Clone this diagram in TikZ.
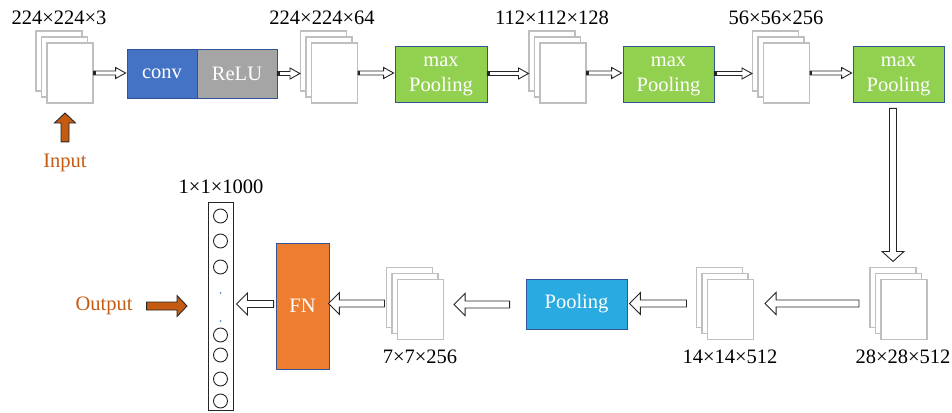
\documentclass[tikz,border=0pt]{standalone}
\usepackage{fontspec}
\setmainfont{Liberation Serif}
\usetikzlibrary{calc}
\definecolor{convblue}{HTML}{4472C4}
\definecolor{relugray}{HTML}{A5A5A5}
\definecolor{poolgreen}{HTML}{92D050}
\definecolor{poolcyan}{HTML}{29ABE2}
\definecolor{fnorange}{HTML}{ED7D31}
\definecolor{boxedge}{HTML}{2F5597}
\definecolor{sheetedge}{HTML}{BFBFBF}
\definecolor{ioorange}{HTML}{C55A11}
\definecolor{tipedge}{HTML}{262626}

\tikzset{
  sheet/.style={draw=sheetedge, line width=1.1pt, fill=white, minimum width=46pt, minimum height=60pt, inner sep=0pt},
  layer/.style={draw=boxedge, line width=0.8pt, text=white, inner sep=0pt, align=center, font=\fontsize{20.5}{25.5}\selectfont},
  maxpool/.style={layer, fill=poolgreen, minimum height=56pt, text depth=0pt},
  dimlbl/.style={inner sep=0pt, font=\fontsize{20.5}{24}\selectfont},
  iolbl/.style={inner sep=0pt, text=ioorange, font=\fontsize{20.5}{24}\selectfont},
  neuron/.style={circle, draw=tipedge, line width=0.9pt, minimum size=14pt, inner sep=0pt},
  blockarrow/.style={draw=tipedge, line width=0.9pt, fill=white, line join=miter},
  tailmark/.style={fill=tipedge},
  % horizontal block arrow: shaft half-height, head half-height, head length (negative = leftwards)
  harr/.style n args={3}{to path={let \p1=(\tikztostart), \p2=(\tikztotarget) in
    (\x1,{\y1+(#1)}) -- ({\x2-(#3)},{\y1+(#1)}) -- ({\x2-(#3)},{\y1+(#2)}) -- (\x2,\y1)
    -- ({\x2-(#3)},{\y1-(#2)}) -- ({\x2-(#3)},{\y1-(#1)}) -- (\x1,{\y1-(#1)}) -- cycle}},
  % vertical block arrow: shaft half-width, head half-width, head length (negative = upwards)
  varr/.style n args={3}{to path={let \p1=(\tikztostart), \p2=(\tikztotarget) in
    ({\x1-(#1)},\y1) -- ({\x1-(#1)},{\y2+(#3)}) -- ({\x1-(#2)},{\y2+(#3)}) -- (\x1,\y2)
    -- ({\x1+(#2)},{\y2+(#3)}) -- ({\x1+(#1)},{\y2+(#3)}) -- ({\x1+(#1)},\y1) -- cycle}},
  rsmall/.style={harr={2pt}{5.5pt}{10pt}},
  lbig/.style={harr={3.5pt}{11pt}{-11pt}},
}

% a stack of three feature-map sheets; #1 is the name of the front sheet
\newcommand\fmapstack[3]{%
  \node[sheet] (#1-b) at (#2-11,#3-12) {};
  \node[sheet] (#1-m) at (#2-5.5,#3-6) {};
  \node[sheet] (#1) at (#2,#3) {};
}
% small right-pointing block arrow with a dark tail end
\newcommand\flowright[2]{%
  \draw[blockarrow] (#1) to[rsmall] (#2);
  \fill[tailmark] ($(#1)+(0,-2.4)$) rectangle ++(2.2,4.8);
}

\begin{document}
\begin{tikzpicture}[x=1pt, y=-1pt]
\useasboundingbox (0,0) rectangle (952,412);

% feature maps
\fmapstack{s1}{70}{73}
\fmapstack{s2}{334.5}{73}
\fmapstack{s3}{563}{73}
\fmapstack{s4}{786.5}{73}
\fmapstack{s5}{904}{309.5}
\fmapstack{s6}{730.5}{309.5}
\fmapstack{s7}{420.5}{309.5}

% dimension labels
\node[dimlbl] (d1) at (59,18) {224×224×3};
\node[dimlbl] (d2) at (322,18) {224×224×64};
\node[dimlbl] (d3) at (552,18) {112×112×128};
\node[dimlbl] (d4) at (776,18) {56×56×256};
\node[dimlbl] (d5) at (903,357) {28×28×512};
\node[dimlbl] (d6) at (730,357) {14×14×512};
\node[dimlbl] (d7) at (420,357) {7×7×256};
\node[dimlbl] (d8) at (221,187) {1×1×1000};

% layers
\node[layer, fill=convblue, minimum width=70pt, minimum height=49pt] (conv) at (162,73.5) {conv};
\node[layer, fill=relugray, minimum width=80pt, minimum height=49pt] (relu) at (237,73.5) {ReLU};
\node[maxpool, minimum width=92pt] (mp1) at (441,74) {max\\Pooling};
\node[maxpool, minimum width=91pt] (mp2) at (668.5,74) {max\\Pooling};
\node[maxpool, minimum width=91pt] (mp3) at (898.5,74) {max\\Pooling};
\node[layer, fill=poolcyan, minimum width=101pt, minimum height=50pt] (pool) at (576.5,304) {Pooling};
\node[layer, fill=fnorange, minimum width=53pt, minimum height=126pt] (fn) at (302.5,306) {FN};

% output column of neurons
\node[draw=tipedge, line width=0.9pt, minimum width=25pt, minimum height=208pt, inner sep=0pt] (col) at (220.5,306) {};
\foreach \i/\yy in {1/216, 2/241, 3/267, 4/335, 5/355, 6/379, 7/401}
  \node[neuron] (n\i) at (220.5,\yy) {};
\fill[convblue] (220.5,293) circle (0.9pt);
\fill[convblue] (220.5,321) circle (0.9pt);

% input / output markers
\node[iolbl] (inlbl) at (65,163) {Input};
\coordinate (intip) at (65,113);
\draw[blockarrow, fill=ioorange] ([yshift=12pt]inlbl.north) to[varr={4pt}{10.5pt}{-10pt}] (intip);
\node[iolbl] (outlbl) at (104,306) {Output};
\coordinate (outtip) at (187,306);
\draw[blockarrow, fill=ioorange] ([xshift=14pt]outlbl.east) to[harr={4pt}{10.5pt}{10pt}] (outtip);

% top row flow
\flowright{s1.east}{[xshift=-1pt]conv.west}
\flowright{relu.east}{s2-b.west}
\flowright{s2.east}{[xshift=-1pt]mp1.west}
\flowright{[yshift=0.5pt]mp1.east}{s3-b.west}
\flowright{s3.east}{[xshift=-1pt]mp2.west}
\flowright{[yshift=0.5pt]mp2.east}{s4-b.west}
\flowright{s4.east}{[xshift=-1pt]mp3.west}

% down to the second row
\draw[blockarrow] ([xshift=-5.5pt, yshift=-6pt]mp3.south) to[varr={3.5pt}{11pt}{10pt}] ([xshift=-5.5pt, yshift=5.5pt]s5-b.north);

% bottom row flow (right to left)
\draw[blockarrow] ([xshift=-16pt]s5-m.west) to[lbig] ([xshift=11pt]s6.east);
\draw[blockarrow] ([xshift=-15pt]s6-m.west) to[lbig] ([xshift=2pt]pool.east);
\draw[blockarrow] ([xshift=-16pt, yshift=-0.5pt]pool.west) to[lbig] ([xshift=10pt]s7.east);
\draw[blockarrow] ([xshift=-7pt]s7-m.west) to[lbig] ([xshift=-1pt]fn.east);
\draw[blockarrow] ([xshift=-2pt, yshift=2pt]fn.west) to[lbig] ([xshift=3pt]col.east);
\end{tikzpicture}
\end{document}
